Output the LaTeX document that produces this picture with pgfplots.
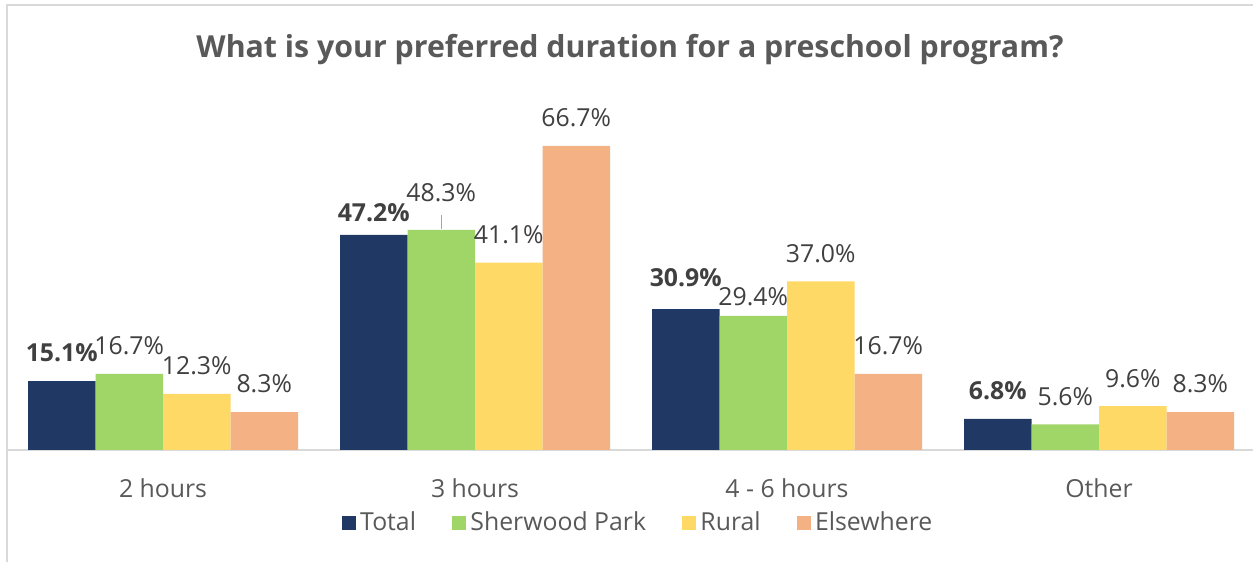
\documentclass[border=0pt]{standalone}
\usepackage{fontspec}
\setmainfont{Open Sans}
\usepackage{pgfplots}
\pgfplotsset{compat=1.18}
\usepackage{pgfplotstable}
\definecolor{cTotal}{HTML}{203864}
\definecolor{cSher}{HTML}{A0D568}
\definecolor{cRural}{HTML}{FFD966}
\definecolor{cElse}{HTML}{F4B183}
\definecolor{txt}{HTML}{595959}
\definecolor{lbl}{HTML}{404040}
\definecolor{gridc}{HTML}{D9D9D9}

\pgfplotstableread{
x y dy
0 15.1 0
1 47.2 -3
2 30.9 1.5
3 6.8 0
}\total
\pgfplotstableread{
x y dy
0 16.7 0
1 48.3 4.5
2 29.4 -4.5
3 5.6 0
}\sher
\pgfplotstableread{
x y dy
0 12.3 0
1 41.1 0
2 37.0 0
3 9.6 0
}\rural
\pgfplotstableread{
x y dy
0 8.3 0
1 66.7 0
2 16.7 0
3 8.3 0
}\elsew

\newcommand{\lblfont}{\fontsize{12.4}{14}\selectfont}

\begin{document}
\begin{tikzpicture}[x=0.5pt,y=0.5pt]
\useasboundingbox (0,0) rectangle (1253,562);
\clip (0,0) rectangle (1253,562);
\fill[white] (0,0) rectangle (1253,562);
\draw[gridc, line width=1pt] (7,-5) -- (7,557) -- (1260,557);
\node[text=txt, font=\bfseries\fontsize{15.15}{18}\selectfont] at (630,512) {What is your preferred duration for a preschool program?};
\begin{axis}[
  at={(3.5pt,56pt)}, anchor=south west,
  scale only axis, width=624pt, height=171pt,
  xmin=-0.5, xmax=3.5, ymin=0, ymax=75,
  ybar=0pt, bar width=33.75pt,
  axis y line=none, axis x line*=bottom,
  x axis line style={gridc, line width=1pt, -},
  xtick={0,1,2,3}, xticklabels={2 hours, 3 hours, 4 - 6 hours, Other},
  major tick length=0pt,
  xticklabel style={font=\lblfont, text=txt, anchor=center, yshift=-19pt},
  /pgf/number format/assume math mode=true,
  nodes near coords={\pgfmathprintnumber[fixed,fixed zerofill,precision=1]{\pgfplotspointmeta}\%},
  visualization depends on={14+\thisrow{dy} \as \dy},
  every node near coord/.append style={anchor=center, yshift=\dy pt, font=\lblfont, text=lbl},
  legend style={at={(0.5065,-0.2135)}, anchor=center, draw=none, fill=none, legend columns=4,
    font=\lblfont, text=txt,
    /tikz/every even column/.append style={column sep=16pt}},
  legend image code/.code={\fill[#1] (0pt,-3.6pt) rectangle (7.2pt,3.6pt);},
  clip=false,
]
\addplot[fill=cTotal, draw=none, every node near coord/.append style={font=\bfseries\lblfont}] table[x=x,y=y] {\total};
\addplot[fill=cSher, draw=none] table[x=x,y=y] {\sher};
\addplot[fill=cRural, draw=none] table[x=x,y=y] {\rural};
\addplot[fill=cElse, draw=none] table[x=x,y=y] {\elsew};
\legend{Total, Sherwood Park, Rural, Elsewhere}
\draw[gray!70, line width=0.6pt] (axis cs:0.892,48.5) -- (axis cs:0.892,51.5);
\end{axis}
\end{tikzpicture}
\end{document}
